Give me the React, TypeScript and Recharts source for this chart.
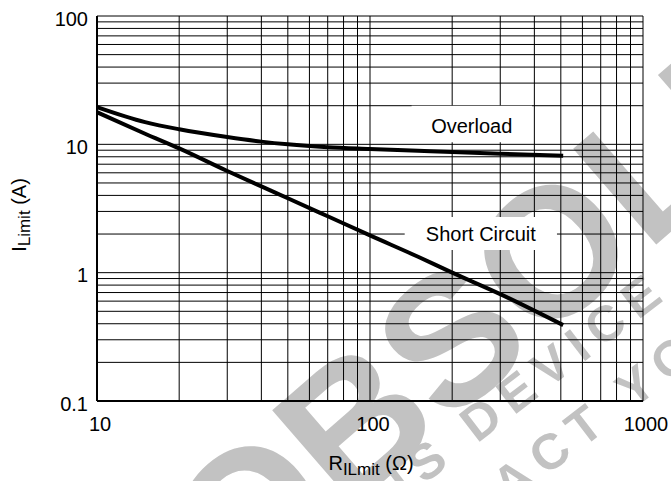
import React from 'react'
import { LineChart, Line, XAxis, YAxis, CartesianGrid, ReferenceArea } from 'recharts'

// R_ILmit (ohm) and current limit (A)
const resistance = [10, 15, 20, 30, 40, 50, 70, 100, 150, 200, 300, 510]
const overload = [19.5, 14.9, 13.1, 11.4, 10.5, 10.0, 9.5, 9.2, 8.9, 8.7, 8.45, 8.15]
const shortCircuit = [17.8, 12.1, 9.3, 6.2, 4.7, 3.8, 2.75, 1.95, 1.33, 1.0, 0.68, 0.39]

// log grid lines and the decade labels
const xTicks = [10, 20, 30, 40, 50, 60, 70, 80, 90, 100, 200, 300, 400, 500, 600, 700, 800, 900, 1000]
const yTicks = [0.1, 0.2, 0.3, 0.4, 0.5, 0.6, 0.7, 0.8, 0.9, 1, 2, 3, 4, 5, 6, 7, 8, 9, 10, 20, 30, 40, 50, 60, 70, 80, 90, 100]
const xLabels = [10, 100, 1000]
const yLabels = [0.1, 1, 10, 100]

const FONT = '"Liberation Sans", Arial, Helvetica, sans-serif'
const GRAY = '#c2c2c2'

const data = resistance.map((r, i) => ({ r, overload: overload[i], shortCircuit: shortCircuit[i] }))

const XTick = (props: any) => {
  const { x, y, payload } = props
  if (!xLabels.includes(payload.value)) return <g />
  return (
    <text x={x + 3} y={y + 30} textAnchor="middle" fontSize={20} fill="#000">
      {payload.value}
    </text>
  )
}

const YTick = (props: any) => {
  const { x, y, payload } = props
  if (!yLabels.includes(payload.value)) return <g />
  return (
    <text x={x - 9} y={y + 9.5} textAnchor="end" fontSize={20} fill="#000">
      {payload.value}
    </text>
  )
}

export default function App() {
  return (
    <div style={{ position: 'absolute', left: 0, top: 0, width: 671, height: 481, background: '#fff', fontFamily: FONT }}>
      {/* obsolete stamp + axis titles, underneath the plot */}
      <svg width={671} height={481} style={{ position: 'absolute', left: 0, top: 0 }}>
        <g fill={GRAY} fontWeight="bold" fontFamily={FONT}>
          <text transform="translate(238,608) rotate(-41)" fontSize={184}>
            OBSOLETE
          </text>
          <text transform="translate(336,552) rotate(-37.5)" fontSize={50} letterSpacing={10}>
            THIS DEVICE IS NO LONGER AVAILABLE
          </text>
          <text transform="translate(368,613) rotate(-37.5)" fontSize={50} letterSpacing={10}>
            CONTACT YOUR ON SEMICONDUCTOR REPRESENTATIVE
          </text>
        </g>
        <text transform="rotate(-90)" x={-215} y={26} textAnchor="middle" fontSize={20} fill="#000">
          I<tspan fontSize={17} dy={4}>Limit</tspan>
          <tspan dy={-4}> (A)</tspan>
        </text>
        <text x={371} y={470} textAnchor="middle" fontSize={20} fill="#000">
          R<tspan fontSize={17} dy={5}>ILmit</tspan>
          <tspan dy={-5}> (Ω)</tspan>
        </text>
      </svg>

      <div style={{ position: 'absolute', left: 0, top: 0 }}>
        <LineChart width={671} height={481} data={data} margin={{ top: 16, right: 28, bottom: 0, left: 0 }}>
          <CartesianGrid stroke="#000" strokeWidth={1} />
          <XAxis
            dataKey="r"
            type="number"
            scale="log"
            domain={[10, 1000]}
            ticks={xTicks}
            interval={0}
            height={80}
            tickSize={0}
            tickMargin={0}
            tickLine={false}
            axisLine={{ stroke: '#000', strokeWidth: 2 }}
            tick={<XTick />}
            allowDataOverflow
          />
          <YAxis
            type="number"
            scale="log"
            domain={[0.1, 100]}
            ticks={yTicks}
            interval={0}
            width={97}
            tickSize={0}
            tickMargin={0}
            tickLine={false}
            axisLine={{ stroke: '#000', strokeWidth: 2 }}
            tick={<YTick />}
            allowDataOverflow
          />
          <ReferenceArea
            x1={142}
            x2={392}
            y1={10.4}
            y2={20}
            fill="#fff"
            fillOpacity={1}
            stroke="none"
            label={{ value: 'Overload', position: 'center', fontSize: 20, fill: '#000', dy: 1.5 }}
          />
          <ReferenceArea
            x1={134}
            x2={484}
            y1={1.5}
            y2={2.72}
            fill="#fff"
            fillOpacity={1}
            stroke="none"
            label={{ value: 'Short Circuit', position: 'center', fontSize: 20, fill: '#000' }}
          />
          <Line type="monotone" dataKey="overload" stroke="#000" strokeWidth={4} dot={false} isAnimationActive={false} />
          <Line type="monotone" dataKey="shortCircuit" stroke="#000" strokeWidth={4} dot={false} isAnimationActive={false} />
        </LineChart>
      </div>
    </div>
  )
}
